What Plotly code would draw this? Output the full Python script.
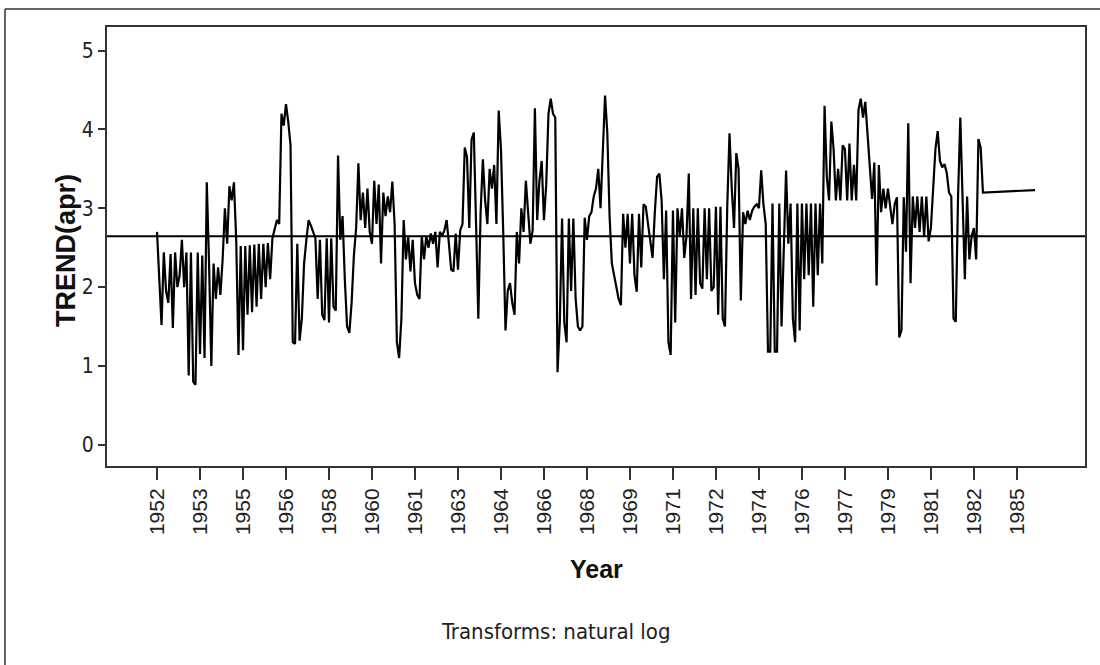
import plotly.graph_objects as go

# ---------------- data ----------------
tick_labels = ["1952", "1953", "1955", "1956", "1958", "1960", "1961", "1963",
               "1964", "1966", "1968", "1969", "1971", "1972", "1974", "1976",
               "1977", "1979", "1981", "1982", "1985"]
obs_per_tick = 19

trend_apr = [
    2.70, 2.05, 1.52, 2.44, 1.95, 1.80, 2.42, 1.48, 2.44, 2.00, 2.15, 2.60,
    2.00, 2.44, 0.88, 2.44, 0.80, 0.76, 2.44, 1.15, 2.40, 1.10,
    3.33, 2.30, 1.00, 2.30,
    1.85, 2.25, 1.90, 2.35, 3.00, 2.55,
    3.28, 3.10, 3.33, 2.60, 1.14,
    2.52, 1.20, 2.52, 1.65, 2.53, 1.68, 2.54, 1.75, 2.55, 1.85, 2.55, 2.00, 2.56, 2.10,
    2.62, 2.75, 2.85, 2.80, 4.20, 4.05, 4.32, 4.10,
    3.80, 1.30, 1.28, 2.55, 1.32, 1.60,
    2.30, 2.60, 2.85, 2.78, 2.70, 2.62,
    1.85, 2.60, 1.65, 1.58, 2.62, 1.55, 2.62, 1.75, 1.70,
    3.67, 2.60, 2.90, 2.10, 1.50, 1.42, 1.80, 2.40,
    2.75, 3.57, 2.85, 3.20, 2.75, 3.25, 2.70, 2.55, 3.35, 2.80, 3.30, 2.30,
    3.20, 2.90, 3.15, 2.95, 3.34, 2.80, 1.30, 1.10, 1.60,
    2.85, 2.35, 2.65, 2.20, 2.60, 2.05, 1.90, 1.85, 2.65, 2.35, 2.65, 2.50, 2.68, 2.55, 2.70,
    2.25, 2.70, 2.65, 2.72, 2.85, 2.55, 2.22, 2.20, 2.68, 2.22, 2.72,
    2.80, 3.77, 3.65, 2.75, 3.87, 3.96, 2.80,
    1.60, 2.95, 3.62, 3.10,
    2.80, 3.50, 3.25, 3.55, 2.80, 4.24, 3.75,
    2.70, 1.45, 1.95, 2.05, 1.80, 1.65, 2.70,
    2.30, 3.00, 2.70, 3.35, 2.95, 2.55, 2.72,
    4.27, 2.85, 3.35, 3.60, 2.85, 3.30, 4.20, 4.39, 4.20, 4.15,
    0.92, 1.55, 2.87, 1.55, 1.30, 2.87, 1.95, 2.87, 1.85, 1.50, 1.45, 1.50,
    2.88, 2.60, 2.90, 2.95, 3.15, 3.25, 3.50, 3.00, 3.75, 4.43, 3.96,
    2.90, 2.30, 2.15, 1.95, 1.85, 1.77,
    2.93, 2.50, 2.93, 2.30, 2.93, 2.15, 1.94, 2.93, 2.25,
    3.05, 3.02, 2.80, 2.60, 2.37, 2.95, 3.40, 3.44, 3.10,
    2.10, 2.97, 1.30, 1.14, 2.97, 1.55,
    3.00, 2.65, 3.00, 2.37, 2.65, 3.44, 1.85, 3.00, 1.90, 3.00, 2.05, 1.98, 3.00, 2.10,
    3.00, 1.95, 2.00, 3.02, 1.65, 3.02,
    1.60, 1.50, 3.02,
    3.95, 3.25, 2.75, 3.70, 3.50, 1.83,
    2.95, 2.80, 2.97, 2.85, 2.97, 3.02, 3.05, 3.00, 3.48,
    3.05, 2.80,
    1.18, 1.18, 3.06, 1.18, 1.18, 3.06,
    1.50, 2.55,
    3.48,
    2.55, 3.06, 1.60, 1.30, 3.06, 1.45, 3.06, 2.10, 3.06, 2.15, 3.06, 1.75, 3.06, 2.15, 3.06, 2.30,
    4.30, 3.40, 3.10, 4.10, 3.75, 3.10, 3.50, 3.10, 3.80, 3.75, 3.10, 3.82, 3.10, 3.55,
    3.10, 4.25, 4.39, 4.15,
    4.35, 3.97, 3.60, 3.12, 3.58, 2.02, 3.55,
    2.95, 3.25, 3.00, 3.25, 3.05, 2.80, 3.05,
    3.14, 1.36, 1.45, 3.14, 2.45,
    4.08, 2.05,
    3.15, 2.75, 3.15, 2.70, 3.15, 2.65, 3.15, 2.58, 2.75,
    3.30, 3.75, 3.98,
    3.60, 3.52, 3.56, 3.45, 3.20,
    3.15, 1.60, 1.56, 3.15,
    4.15,
    3.15, 2.10, 3.15, 2.35, 2.65, 2.75, 2.35,
    3.88, 3.77,
    3.20,
]
last_obs_index = 388
last_obs_value = 3.23
mean_level = 2.645

obs_index = list(range(len(trend_apr))) + [last_obs_index]
values = trend_apr + [last_obs_value]
tick_positions = [k * obs_per_tick for k in range(len(tick_labels))]

NARROW = "'Liberation Sans Narrow', 'Arial Narrow', 'DejaVu Sans Condensed', sans-serif"
REG = "'Liberation Sans', Arial, Helvetica, sans-serif"

fig = go.Figure()
fig.add_trace(go.Scatter(x=obs_index, y=values, mode="lines",
                         line=dict(color="black", width=2.2),
                         hoverinfo="x+y", showlegend=False))

fig.add_shape(type="line", xref="paper", yref="y", x0=0, x1=1,
              y0=mean_level, y1=mean_level, line=dict(color="black", width=2))

# outer frame (top and left edges visible)
fig.add_shape(type="line", xref="paper", yref="paper", x0=-0.1043, x1=1.03,
              y0=1.041, y1=1.041, line=dict(color="#333", width=1.5))
fig.add_shape(type="line", xref="paper", yref="paper", x0=-0.1043, x1=-0.1043,
              y0=1.041, y1=-0.47, line=dict(color="#333", width=1.5))

fig.add_annotation(text="<b>Year</b>", xref="paper", yref="paper", x=0.5, y=-0.2346,
                   showarrow=False, xanchor="center", yanchor="middle",
                   font=dict(family=REG, size=25, color="#111"))
fig.add_annotation(text="<b>TREND(apr)</b>", xref="paper", yref="paper", x=-0.0419, y=0.49,
                   showarrow=False, textangle=-90, xanchor="center", yanchor="middle",
                   font=dict(family=REG, size=27, color="#111"))
fig.add_annotation(text="Transforms: natural log", xref="paper", yref="paper",
                   x=0.459, y=-0.377, showarrow=False, xanchor="center", yanchor="middle",
                   font=dict(family=NARROW, size=22, color="#222"))

fig.update_layout(
    width=1100, height=665,
    margin=dict(l=107, r=15, t=27, b=199, pad=0),
    paper_bgcolor="white", plot_bgcolor="white",
    showlegend=False,
    xaxis=dict(range=[-22.1, 410.1], tickvals=tick_positions, ticktext=tick_labels,
               tickangle=-90, ticks="outside", ticklen=12, tickwidth=1.5, tickcolor="#333",
               showline=True, mirror=True, linecolor="#333", linewidth=2,
               showgrid=False, zeroline=False,
               tickfont=dict(family=REG, size=21, color="#222")),
    yaxis=dict(range=[-0.27, 5.30], tickvals=[0, 1, 2, 3, 4, 5],
               ticks="outside", ticklen=7, tickwidth=1.5, tickcolor="#333",
               showline=True, mirror=True, linecolor="#333", linewidth=2,
               showgrid=False, zeroline=False,
               tickfont=dict(family=NARROW, size=21, color="#222")),
)

fig.write_html("out.html")
